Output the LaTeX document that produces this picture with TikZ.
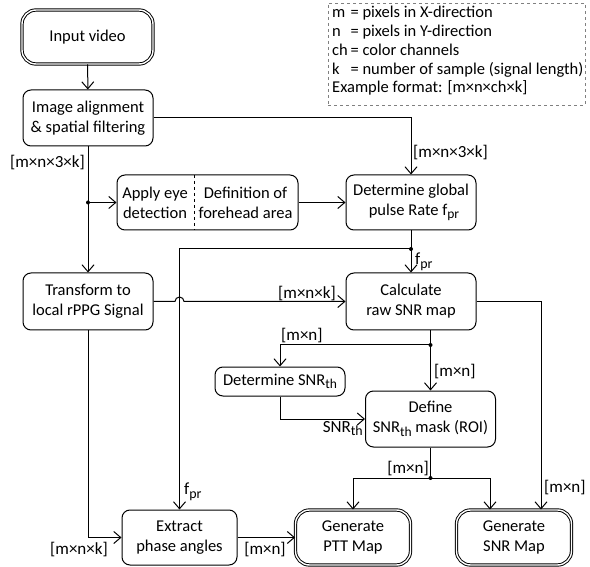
\documentclass[tikz,border=0pt]{standalone}
\usepackage{fontspec}
\setmainfont{Carlito}
\usetikzlibrary{arrows.meta}
\newcommand\lsub[1]{\raisebox{-0.45ex}{\scalebox{0.82}{#1}}}
\begin{document}
\begin{tikzpicture}[x=1pt,y=1pt,
  every node/.style={font=\fontsize{16.5}{20}\selectfont},
  box/.style={draw,line width=1pt,rounded corners=8pt,align=center,inner sep=0pt},
  termbox/.style={box,rounded corners=14pt,double,double distance=1.4pt,line width=0.95pt},
  conn/.style={line width=1pt,-{Straight Barb[length=7pt,width=12pt,line width=1pt]}},
  plain/.style={line width=1pt},
  lbl/.style={inner sep=1pt,font=\fontsize{17}{20}\selectfont},
  dot/.style={circle,fill,inner sep=0pt,minimum size=4pt}]
\useasboundingbox (0,0) rectangle (590,-567);
% nodes
\node[termbox,minimum width=131pt,minimum height=54pt] (input) at (87.5,-37) {Input video};
\node[box,minimum width=130pt,minimum height=56pt] (align) at (88,-118) {Image alignment\\ \& spatial filtering};
\node[box,minimum width=181pt,minimum height=55pt] (eye) at (207.5,-202.5) {};
\node[align=center,inner sep=0pt] (eyeL) at (155,-202.5) {Apply eye\\detection};
\node[align=center,inner sep=0pt] (eyeR) at (245.5,-202.5) {Definition of\\forehead area};
\coordinate (divt) at (194,-175);
\coordinate (divb) at (194,-230);
\draw[dashed,line width=0.8pt] (divt) -- (divb);
\node[box,minimum width=130pt,minimum height=55pt] (glob) at (411,-202.5) {Determine global\\ \hspace*{6pt}pulse Rate f\lsub{pr}};
\node[box,minimum width=130pt,minimum height=57pt] (transform) at (88,-301.5) {Transform to\\local rPPG Signal};
\node[box,minimum width=130pt,minimum height=57pt] (calc) at (411,-301.5) {Calculate\\raw SNR map};
\node[box,minimum width=130pt,minimum height=29pt] (snrth) at (280,-381.5) {Determine SNR\lsub{th}};
\node[box,minimum width=130pt,minimum height=56pt] (define) at (430.5,-419) {Define\\SNR\lsub{th} mask (ROI)};
\node[box,minimum width=115pt,minimum height=55pt] (extract) at (179.5,-537.5) {Extract\\phase angles};
\node[termbox,minimum width=115pt,minimum height=55pt] (ptt) at (353,-537.5) {Generate\\PTT Map};
\node[termbox,minimum width=115pt,minimum height=55pt] (snrmap) at (514,-537.5) {Generate\\SNR Map};
% legend
\node[draw=gray,dashed,line width=0.7pt,minimum width=257pt,minimum height=102pt,inner sep=0pt] (legendbox) at (456.5,-54) {};
\node[anchor=north west,inner sep=0pt,font=\fontsize{16.5}{18.75}\selectfont] (legend) at (332,-4.5) {%
\begin{tabular}{@{}l@{\,}l@{}}
m & = pixels in X-direction\\
n & = pixels in Y-direction\\
ch & = color channels\\
k & = number of sample (signal length)\\
\multicolumn{2}{@{}l@{}}{Example format: [m×n×ch×k]}
\end{tabular}};
% junctions
\coordinate (j1) at (align.south |- eye.west);
\coordinate (j2) at (411,-249);
\coordinate (j3) at (define.north |- 0,-345);
\coordinate (j4) at (define.south |- 0,-478);
\coordinate (hop) at (extract.north |- calc.west);
\coordinate (snrin1) at ([xshift=-24pt]snrmap.north);
\coordinate (snrin2) at ([xshift=27pt]snrmap.north);
% connectors
\draw[conn] (input) -- (align);
\draw[conn] (align) -- (transform);
\node[dot] at (j1) {};
\draw[conn] (j1) -- (eye.west);
\node[lbl,anchor=east] at (86,-163) {[m×n×3×k]};
\draw[conn] (align.east) -| (glob.north);
\node[lbl,anchor=west] at (412,-153) {[m×n×3×k]};
\draw[conn] (eye.east) -- (glob.west);
\draw[conn] (glob) -- (calc);
\node[dot] at (j2) {};
\node[lbl,anchor=west] at (414,-262) {f\lsub{pr}};
\draw[conn] (j2) -| (extract.north);
\node[lbl,anchor=west] at (183,-492) {f\lsub{pr}};
\draw[conn] (transform.east) -- ([xshift=-4.5pt]hop) arc[start angle=180,end angle=0,radius=4.5pt] -- (calc.west);
\node[lbl,anchor=south east] at (337,-302) {[m×n×k]};
\draw[conn] (calc.east) -| (snrin2);
\node[lbl,anchor=west] at (543,-488) {[m×n]};
\draw[conn] (define.north |- calc.south) -- (define.north);
\node[dot] at (j3) {};
\node[lbl,anchor=west] at (433,-372) {[m×n]};
\draw[conn] (j3) -| (snrth.north);
\node[lbl,anchor=south west] at (280,-344) {[m×n]};
\draw[conn] (snrth.south) |- (define.west);
\node[lbl,anchor=north east] at (364,-420) {SNR\lsub{th}};
\draw[plain] (define.south) -- (j4);
\node[dot] at (j4) {};
\draw[conn] (j4) -| (ptt.north);
\draw[conn] (j4) -| (snrin1);
\node[lbl,anchor=south east] at (430,-477) {[m×n]};
\draw[conn] (transform.south) |- (extract.west);
\node[lbl,anchor=north east] at (109,-541) {[m×n×k]};
\draw[conn] (extract.east) -- (ptt.west);
\node[lbl,anchor=north] at (265,-541) {[m×n]};
\end{tikzpicture}
\end{document}
